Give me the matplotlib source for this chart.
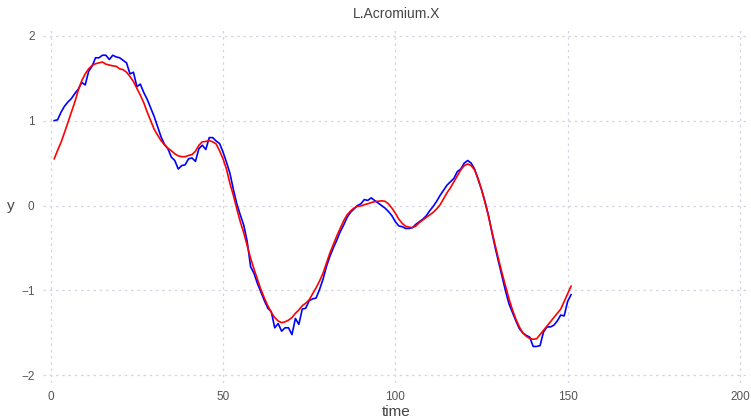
import numpy as np
import matplotlib
matplotlib.use("Agg")
import matplotlib.pyplot as plt

# time index and the two series (raw = blue, smoothed = red)
time = np.arange(1, 152)

raw_y = [
    1.00, 1.01, 1.10, 1.17, 1.22, 1.26, 1.32, 1.37, 1.45, 1.42,
    1.58, 1.64, 1.74, 1.74, 1.77, 1.77, 1.72, 1.77, 1.75, 1.74,
    1.71, 1.68, 1.55, 1.57, 1.40, 1.43, 1.33, 1.25, 1.15, 1.05,
    0.93, 0.81, 0.72, 0.67, 0.57, 0.53, 0.43, 0.47, 0.48, 0.55,
    0.56, 0.52, 0.67, 0.71, 0.66, 0.80, 0.80, 0.76, 0.73, 0.63,
    0.51, 0.38, 0.19, 0.02, -0.11, -0.23, -0.42, -0.72, -0.80, -0.92,
    -1.02, -1.12, -1.21, -1.25, -1.44, -1.39, -1.48, -1.44, -1.44, -1.52,
    -1.33, -1.40, -1.22, -1.21, -1.12, -1.10, -1.09, -0.99, -0.87, -0.72,
    -0.60, -0.50, -0.41, -0.31, -0.23, -0.14, -0.08, -0.04, 0.00, 0.02,
    0.07, 0.06, 0.09, 0.06, 0.03, 0.00, -0.03, -0.07, -0.12, -0.19,
    -0.24, -0.25, -0.27, -0.27, -0.26, -0.22, -0.19, -0.16, -0.12, -0.06,
    -0.01, 0.05, 0.12, 0.18, 0.24, 0.28, 0.32, 0.40, 0.43, 0.50,
    0.53, 0.50, 0.43, 0.31, 0.19, 0.05, -0.11, -0.31, -0.50, -0.67,
    -0.84, -1.01, -1.16, -1.26, -1.36, -1.45, -1.50, -1.53, -1.55, -1.66,
    -1.66, -1.65, -1.49, -1.43, -1.43, -1.41, -1.36, -1.29, -1.30, -1.13,
    -1.05,
]

smooth_y = [
    0.55, 0.65, 0.745, 0.86, 0.98, 1.10, 1.22, 1.36, 1.47, 1.55,
    1.61, 1.65, 1.67, 1.68, 1.69, 1.665, 1.655, 1.645, 1.64, 1.61,
    1.60, 1.57, 1.52, 1.46, 1.38, 1.30, 1.21, 1.10, 1.00, 0.90,
    0.83, 0.765, 0.715, 0.675, 0.645, 0.61, 0.585, 0.575, 0.575, 0.59,
    0.60, 0.64, 0.71, 0.75, 0.755, 0.765, 0.75, 0.725, 0.645, 0.55,
    0.43, 0.26, 0.12, -0.04, -0.19, -0.32, -0.47, -0.62, -0.75, -0.87,
    -0.99, -1.09, -1.18, -1.26, -1.32, -1.36, -1.38, -1.37, -1.35, -1.32,
    -1.27, -1.23, -1.18, -1.15, -1.11, -1.04, -0.97, -0.89, -0.80, -0.68,
    -0.56, -0.46, -0.36, -0.27, -0.18, -0.11, -0.065, -0.03, -0.01, -0.005,
    0.01, 0.02, 0.035, 0.045, 0.05, 0.055, 0.05, 0.02, -0.03, -0.09,
    -0.16, -0.21, -0.245, -0.255, -0.26, -0.24, -0.20, -0.17, -0.14, -0.11,
    -0.08, -0.04, 0.01, 0.08, 0.15, 0.21, 0.28, 0.35, 0.42, 0.47,
    0.49, 0.47, 0.42, 0.32, 0.19, 0.04, -0.12, -0.30, -0.47, -0.64,
    -0.80, -0.95, -1.10, -1.23, -1.34, -1.43, -1.50, -1.54, -1.565, -1.575,
    -1.57, -1.52, -1.47, -1.42, -1.37, -1.32, -1.27, -1.22, -1.13, -1.04,
    -0.95,
]

x_ticks = [0, 50, 100, 150, 200]
y_ticks = [-2, -1, 0, 1, 2]

plt.rcParams["font.family"] = ["Liberation Sans", "DejaVu Sans"]

fig = plt.figure(figsize=(7.51, 4.19), dpi=100)
ax = fig.add_axes([0.057, 0.086, 0.942, 0.847])

ax.plot(time, raw_y, color="#0000ff", linewidth=1.2)
ax.plot(time, smooth_y, color="#ff0000", linewidth=1.2)

ax.set_xlim(-2.3, 203)
ax.set_ylim(-2.09, 2.09)
ax.set_xticks(x_ticks)
ax.set_yticks(y_ticks)
ax.tick_params(length=0, labelsize=8.5, labelcolor="#555555", pad=6)

for side in ax.spines.values():
    side.set_visible(False)
ax.grid(True, color="#d4d4e2", linestyle=(0, (2, 3)), linewidth=0.9)
ax.set_axisbelow(True)

ax.set_title("L.Acromium.X", fontsize=10, color="#444444", pad=7)
ax.set_xlabel("time", fontsize=11, color="#444444", labelpad=1)
ax.set_ylabel("y", fontsize=11, color="#444444", rotation=0, labelpad=7, va="center")

fig.savefig("out.png", dpi=100)
